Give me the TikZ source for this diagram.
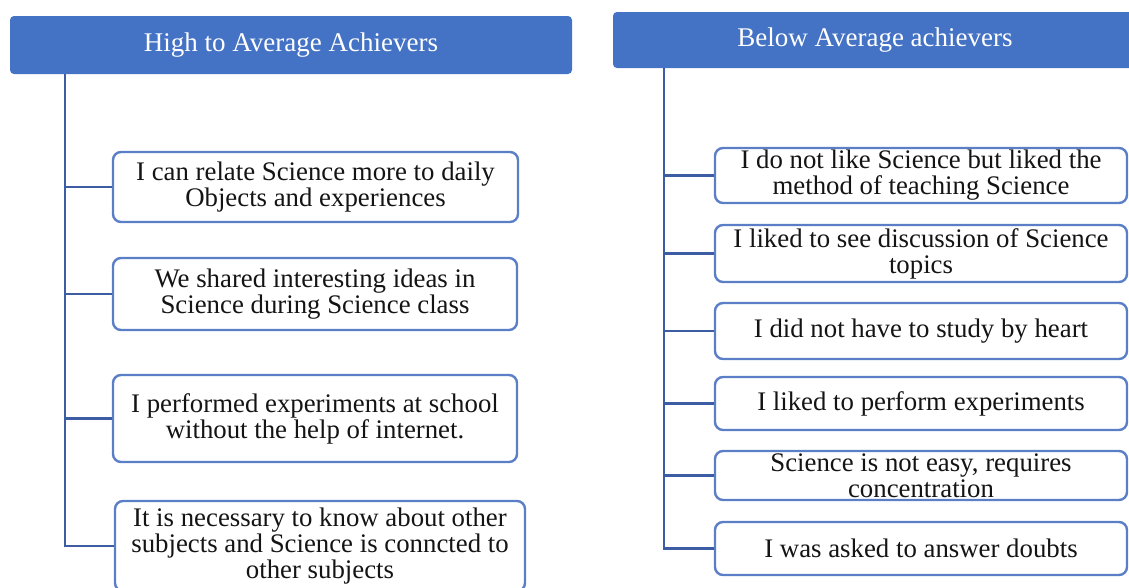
\documentclass[tikz,border=0pt]{standalone}
\usepackage{fontspec}
\newfontfamily\tnr{Liberation Serif}
\begin{document}
\begin{tikzpicture}[x=1pt,y=-1pt,
  headbox/.style={draw=none, fill=headblue, rounded corners=4pt, inner sep=0pt,
    text=white, font=\tnr\fontsize{27}{26}\selectfont},
  itembox/.style={draw=boxblue, line width=2.4pt, rounded corners=8pt, fill=white,
    inner sep=0pt, align=center, text=black!92, font=\tnr\fontsize{26.8}{26}\selectfont},
  conn/.style={draw=lineblue, line width=2.8pt}]
\definecolor{headblue}{HTML}{4472C4}
\definecolor{boxblue}{HTML}{5B7FC6}
\definecolor{lineblue}{HTML}{3C5CA3}
\useasboundingbox (0,0) rectangle (1129,587);
\clip (0,0) rectangle (1129,587);

% column headers
\node[headbox, minimum width=562pt, minimum height=58pt] (hl) at (291,45) {High to Average Achievers};
\node[headbox, minimum width=524pt, minimum height=56pt] (hr) at (875,40) {Below Average achievers};

% left column items
\node[itembox, minimum width=405pt, minimum height=70pt] (l1) at (315.5,187)
  {I can relate Science more to daily\\Objects and experiences};
\node[itembox, minimum width=404pt, minimum height=72pt] (l2) at (315,294)
  {We shared interesting ideas in\\Science during Science class};
\node[itembox, minimum width=404pt, minimum height=87pt] (l3) at (315,418.5)
  {I performed experiments at school\\without the help of internet.};
\node[itembox, minimum width=410pt, minimum height=90pt] (l4) at (320,546)
  {It is necessary to know about other\\subjects and Science is conncted to\\other subjects};

% right column items
\node[itembox, minimum width=412pt, minimum height=55pt] (r1) at (921,175.5)
  {I do not like Science but liked the\\method of teaching Science};
\node[itembox, minimum width=412pt, minimum height=57pt] (r2) at (921,253.5)
  {I liked to see discussion of Science\\topics};
\node[itembox, minimum width=412pt, minimum height=56pt] (r3) at (921,331)
  {I did not have to study by heart};
\node[itembox, minimum width=412pt, minimum height=53pt] (r4) at (921,403.5)
  {I liked to perform experiments};
\node[itembox, minimum width=412pt, minimum height=49pt] (r5) at (921,475.5)
  {Science is not easy, requires\\concentration};
\node[itembox, minimum width=412pt, minimum height=53pt] (r6) at (921,548.5)
  {I was asked to answer doubts};

% trunks of the two trees
\coordinate (tl) at (65,0);
\coordinate (tr) at (664,0);
\draw[conn] (hl.south -| tl) |- (l4.west);
\draw[conn] (hr.south -| tr) |- (r6.west);

% branches
\foreach \n in {l1,l2,l3} \draw[conn] (tl |- \n.west) -- (\n.west);
\foreach \n in {r1,r2,r3,r4,r5} \draw[conn] (tr |- \n.west) -- (\n.west);
\end{tikzpicture}
\end{document}
